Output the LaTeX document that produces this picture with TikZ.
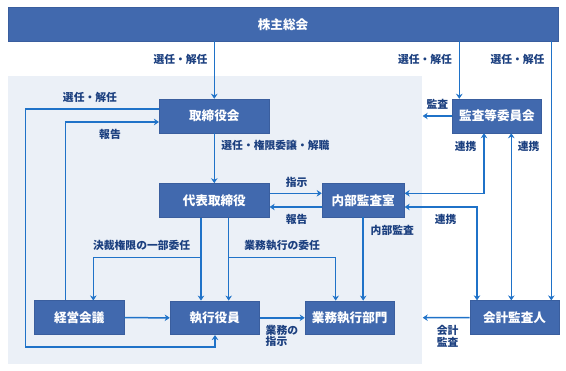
\documentclass[tikz,border=0pt]{standalone}
\usepackage{fontspec}
\newfontfamily\jp{Noto Sans CJK JP}
\usetikzlibrary{arrows.meta}
\definecolor{boxblue}{HTML}{4169AE}
\definecolor{boxedge}{HTML}{3A5E9E}
\definecolor{arrblue}{HTML}{1F72C8}
\definecolor{lblue}{HTML}{1B3F7F}
\definecolor{panel}{HTML}{EBF0F7}
\tikzset{
  box/.style={fill=boxblue, draw=boxedge, line width=0.6pt, text=white, inner sep=0pt,
    font=\jp\bfseries\fontsize{12.6}{14}\selectfont, minimum height=33.8pt},
  arr/.style={draw=arrblue, line width=1.5pt, -{Stealth[length=5pt,width=6.5pt,inset=1.6pt]}},
  darr/.style={draw=arrblue, line width=1.5pt, {Stealth[length=5pt,width=6.5pt,inset=1.6pt]}-{Stealth[length=5pt,width=6.5pt,inset=1.6pt]}},
  ln/.style={draw=arrblue, line width=1.5pt},
  lbl/.style={text=lblue, inner sep=0pt, font=\jp\bfseries\fontsize{10.8}{11.7}\selectfont}
}
\begin{document}
\begin{tikzpicture}[x=1pt,y=-1pt]
\useasboundingbox (0,0) rectangle (566,371);
% panel
\fill[panel] (7.5,76) rectangle (421.7,364.3);
% top bar
\node[box, minimum width=550pt] (gm) at (283,24.2) {株主総会};
% boxes
\node[box, minimum width=110pt] (tb) at (214.3,116) {取締役会};
\node[box, minimum width=89.4pt] (ac) at (497,116) {監査等委員会};
\node[box, minimum width=110pt] (rep) at (214.3,200.4) {代表取締役};
\node[box, minimum width=82.3pt] (ia) at (363.2,200.3) {内部監査室};
\node[box, minimum width=89.7pt] (mc) at (79.2,317.7) {経営会議};
\node[box, minimum width=89.3pt] (eo) at (214.7,317.8) {執行役員};
\node[box, minimum width=89.3pt] (bd) at (349.7,317.8) {業務執行部門};
\node[box, minimum width=89pt] (au) at (514.5,317.6) {会計監査人};
% helper coordinates
\coordinate (xac) at (459.3,0);
\coordinate (xau) at (551.3,0);
\coordinate (audEnd) at (422.7,116);
\coordinate (yInstr) at (0,193.3);
\coordinate (yRep) at (0,207);
\coordinate (xr1) at (201,0);
\coordinate (xr2) at (228.7,0);
\coordinate (j1) at (201,257.3);
\coordinate (j2) at (228.7,257.3);
\coordinate (xmc) at (93.3,0);
\coordinate (xbd) at (335.7,0);
\coordinate (xia) at (363.2,0);
\coordinate (accEnd) at (422.7,317.7);
\coordinate (yLoop) at (0,109);
\coordinate (L1) at (25.3,109);
\coordinate (L2) at (25.3,347);
\coordinate (L3) at (215,347);
\coordinate (xRep) at (65.7,0);
\coordinate (R1) at (65.7,122);
\coordinate (xl1) at (484,0);
\coordinate (xl2) at (477,0);
\coordinate (xl3) at (511.3,0);
% connectors
\draw[arr] (gm.south -| tb.north) -- (tb.north);
\draw[arr] (gm.south -| xac) -- (ac.north -| xac);
\draw[arr] (gm.south -| xau) -- (au.north -| xau);
\draw[arr] (ac.west) -- (audEnd);
\draw[arr] (tb.south) -- (rep.north);
\draw[arr] (rep.east |- yInstr) -- (ia.west |- yInstr);
\draw[arr] (ia.west |- yRep) -- (rep.east |- yRep);
\draw[arr] (rep.south -| xr1) -- (eo.north -| xr1);
\draw[arr] (rep.south -| xr2) -- (eo.north -| xr2);
\draw[arr] (j1) -| (mc.north -| xmc);
\draw[arr] (j2) -| (bd.north -| xbd);
\draw[arr] (ia.south -| xia) -- (bd.north -| xia);
\draw[arr] (mc.east) -- (eo.west);
\draw[arr] (eo.east) -- (bd.west);
\draw[arr] (au.west) -- (accEnd);
\draw[arr] (tb.west |- yLoop) -- (L1) -- (L2) -- (L3) -- (eo.south -| L3);
\draw[arr] (mc.north -| xRep) -- (R1) -- (tb.west |- R1);
\draw[darr] (ac.south -| xl1) |- (ia.east |- yInstr);
\draw[darr] (ia.east |- yRep) -| (au.north -| xl2);
\draw[darr] (ac.south -| xl3) -- (au.north -| xl3);
% labels
\node[lbl] (l1) at (180.5,59) {選任・解任};
\node[lbl] (l2) at (425,59) {選任・解任};
\node[lbl] (l3) at (517.5,59) {選任・解任};
\node[lbl] (l4) at (437.3,104.3) {監査};
\node[lbl] (l5) at (90,97.7) {選任・解任};
\node[lbl] (l6) at (110,134) {報告};
\node[lbl, anchor=west] (l7) at (221.2,145.7) {選任・権限委譲・解職};
\node[lbl] (l8) at (296.7,182.3) {指示};
\node[lbl] (l9) at (296.7,219.3) {報告};
\node[lbl] (l10) at (465.7,146.7) {連携};
\node[lbl] (l11) at (528.7,146.7) {連携};
\node[lbl] (l12) at (445.7,219.3) {連携};
\node[lbl] (l13) at (392.3,230) {内部監査};
\node[lbl] (l14) at (141.7,245.3) {決裁権限の一部委任};
\node[lbl] (l15) at (282.2,245.3) {業務執行の委任};
\node[lbl, anchor=west, align=left] (l16) at (265.5,336) {業務の\\指示};
\node[lbl, align=center] (l17) at (447.7,336) {会計\\監査};
\end{tikzpicture}
\end{document}
